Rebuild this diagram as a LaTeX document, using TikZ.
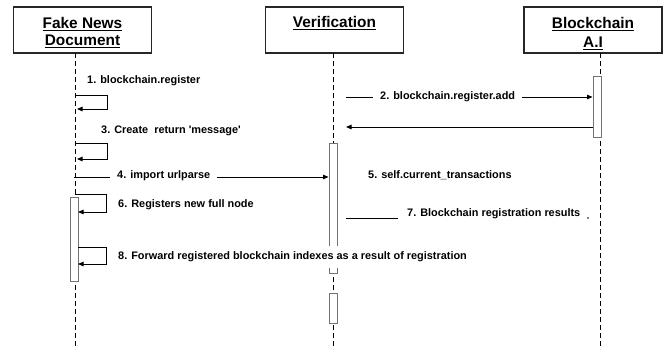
\documentclass[tikz,border=0pt]{standalone}
\usepackage{fontspec}
\setmainfont{Liberation Sans}
\usetikzlibrary{arrows.meta}
% bold title text with a heavy underline
\newcommand{\ulbold}[1]{\leavevmode\vtop{\hbox{#1}\kern1.6pt\hrule height 1.2pt}}
\begin{document}
\begin{tikzpicture}[x=1pt,y=-1pt,
  hdr/.style={draw=black!85,line width=1.1pt,minimum width=138pt,minimum height=46pt,inner sep=0pt,fill=white},
  ttl/.style={anchor=base,inner sep=0pt,font=\bfseries\fontsize{15.4}{18}\selectfont},
  life/.style={draw=black,line width=0.7pt,dash pattern=on 5pt off 3pt},
  act/.style={draw=black!55,line width=0.9pt,fill=white,minimum width=8pt,inner sep=0pt},
  msg/.style={draw=black,line width=0.9pt},
  tip/.style={-{Triangle[length=5.5pt,width=4.5pt]}},
  lbl/.style={font=\bfseries\fontsize{10.9}{12}\selectfont,inner sep=0pt,anchor=west},
  cover/.style={fill=white,inner xsep=7pt,inner ysep=2pt}]

\useasboundingbox (0,0) rectangle (663,349);

% participants
\node[hdr] (fnd) at (82.5,30) {};
\node[hdr] (ver) at (334.5,30) {};
\node[hdr] (bai) at (593,30) {};
\node[ttl] (fnd1) at (82.5,28.5) {\ulbold{Fake News}};
\node[ttl] (fnd2) at (82.5,45.5) {\ulbold{Document}};
\node[ttl] (ver1) at (334.5,27.5) {\ulbold{Verification}};
\node[ttl] (bai1) at (593,28) {\ulbold{Blockchain}};
\node[ttl] (bai2) at (593,47.5) {\ulbold{A.I}};

% lifelines
\coordinate (l1t) at (75,53);  \coordinate (l1b) at (75,349);
\coordinate (l2t) at (333,53); \coordinate (l2b) at (333,349);
\coordinate (l3t) at (600,53); \coordinate (l3b) at (600,349);
\draw[life] (l1t) -- (l1b);
\draw[life] (l2t) -- (l2b);
\draw[life] (l3t) -- (l3b);

% activation bars
\node[act,minimum height=61pt]  (a3)  at (597,106.5) {};
\node[act,minimum height=130pt] (a2)  at (333,208) {};
\node[act,minimum height=30pt]  (a2b) at (333,308) {};
\node[act,minimum height=84pt]  (a1)  at (74,239) {};

% 1: self call
\coordinate (s1) at (75,95); \coordinate (e1) at (77,109);
\draw[msg,tip] (s1) -- ++(32,0) |- (e1);
\node[lbl] (t1) at (87,81) {1. blockchain.register};

% 2: call to the blockchain and its return
\coordinate (m2) at (346,97);
\draw[msg,tip] (m2) -- (m2 -| a3.west);
\node[lbl,cover] (t2) at (373,97) {2. blockchain.register.add};
\coordinate (r2) at (346,127);
\draw[msg,tip] (a3.west |- r2) -- (r2);

% 3: self call
\node[lbl] (t3) at (101,131) {3. Create\ \ return \textquotesingle message\textquotesingle};
\coordinate (s3) at (75,143); \coordinate (e3) at (77,159);
\draw[msg,tip] (s3) -- ++(32,0) |- (e3);

% 4: call to verification
\coordinate (m4) at (74,177);
\draw[msg,tip] (m4) -- (m4 -| a2.west);
\node[lbl,cover] (t4) at (110,175.5) {4. import urlparse};

% 5
\node[lbl] (t5) at (368,175) {5. self.current\_transactions};

% 6: self call
\coordinate (s6) at (75,194); \coordinate (e6) at (78,212);
\draw[msg,tip] (s6) -- ++(31,0) |- (e6);
\node[lbl] (t6) at (118,205) {6. Registers new full node};

% 7
\coordinate (m7) at (346,218); \coordinate (m7e) at (398,218);
\draw[msg] (m7) -- (m7e);
\node[lbl] (t7) at (407,214) {7. Blockchain registration results};
\coordinate (d7) at (588,218);
\fill (d7) circle (0.9);

% 8: self call
\coordinate (s8) at (78,247); \coordinate (e8) at (78,264);
\draw[msg,tip] (s8) -- (106,247) |- (e8);
\node[lbl,fill=white,inner ysep=5.5pt] (t8) at (118,257) {8. Forward registered blockchain indexes as a result of registration};

\end{tikzpicture}
\end{document}
